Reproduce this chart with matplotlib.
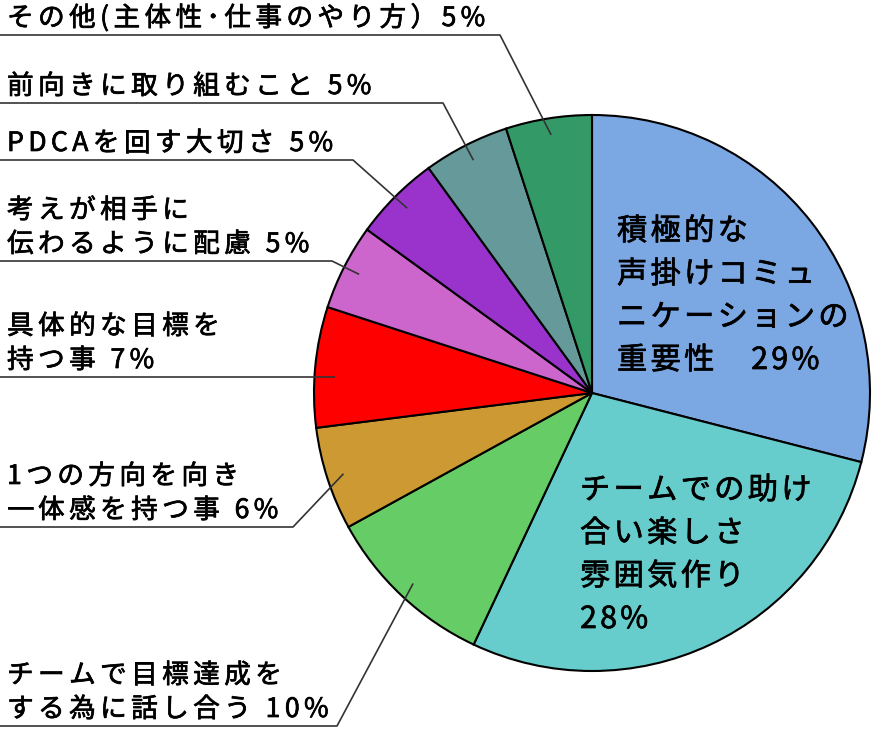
import matplotlib
matplotlib.use('Agg')
import numpy as np
import matplotlib.pyplot as plt
import matplotlib.patheffects as pe
from matplotlib import font_manager

W, H = 873, 753
FAMILY = ['Noto Sans CJK JP', 'DejaVu Sans']

# data (clockwise from 12 o'clock)
values = [29, 28, 10, 6, 7, 5, 5, 5, 5]
colors = ['#7BA7E3', '#66CCCC', '#66CC66', '#CC9933', '#FF0000',
          '#CC66CC', '#9933CC', '#669999', '#339966']
inner_labels = {
    0: ['積極的な', '声掛けコミュ', 'ニケーションの', '重要性　29%'],
    1: ['チームでの助け', '合い楽しさ', '雰囲気作り', '28%'],
}
outer_labels = {
    8: ['その他(主体性･仕事のやり方）5%'],
    7: ['前向きに取り組むこと 5%'],
    6: ['PDCAを回す大切さ 5%'],
    5: ['考えが相手に', '伝わるように配慮 5%'],
    4: ['具体的な目標を', '持つ事 7%'],
    3: ['1つの方向を向き', '一体感を持つ事 6%'],
    2: ['チームで目標達成を', 'する為に話し合う 10%'],
}

# layout (pixels, y measured from top)
cx, cy, R = 592, 393, 278
inner_pos = {0: (617, 240), 1: (580, 499)}
inner_step = 43
under_y = {8: 35, 7: 103, 6: 160, 5: 261, 4: 377, 3: 527, 2: 726}
elbow_x = {8: 500, 7: 443, 6: 353, 5: 332, 4: 335, 3: 293, 2: 337}
outer_step = 34

_font = font_manager.get_font(font_manager.findfont(
    font_manager.FontProperties(family='Noto Sans CJK JP')))
_hf = matplotlib.rcParams['text.hinting_factor']
_thick = [pe.withStroke(linewidth=0.5, foreground='black')]


def tracked(ax, x, ytop, s, size, track):
    # draw text one glyph at a time to get wide letter spacing
    _font.set_size(size, 100)
    for ch in s:
        ax.text(x, H - ytop, ch, fontsize=size, family=FAMILY,
                ha='left', va='baseline', color='black', path_effects=_thick)
        g = _font.load_char(ord(ch))
        x += g.horiAdvance / 64.0 / _hf + track


fig = plt.figure(figsize=(W / 100, H / 100), dpi=100)
ax = fig.add_axes([0, 0, 1, 1])
wedges, _ = ax.pie(values, colors=colors, startangle=90, counterclock=False,
                   center=(cx, H - cy), radius=R,
                   wedgeprops=dict(edgecolor='black', linewidth=1.5))
ax.set_aspect('equal')
ax.set_xlim(0, W)
ax.set_ylim(0, H)
ax.axis('off')

for i, lines in inner_labels.items():
    x0, y0 = inner_pos[i]
    for k, line in enumerate(lines):
        tracked(ax, x0, y0 + k * inner_step, line, 21.8, 3.3)

for i, lines in outer_labels.items():
    uy = under_y[i]
    n = len(lines)
    for k, line in enumerate(lines):
        tracked(ax, 7, uy - 9 - (n - 1 - k) * outer_step, line, 19.2, 4.4)
    ex = elbow_x[i]
    xs, ys = [0, ex], [H - uy, H - uy]
    if np.hypot(ex - cx, uy - cy) > R:
        w = wedges[i]
        mid = np.deg2rad((w.theta1 + w.theta2) / 2)
        xs.append(cx + 0.94 * R * np.cos(mid))
        ys.append(H - cy + 0.94 * R * np.sin(mid))
    ax.plot(xs, ys, color='#333333', lw=1.2, solid_capstyle='butt')

fig.savefig('out.png', dpi=100)
